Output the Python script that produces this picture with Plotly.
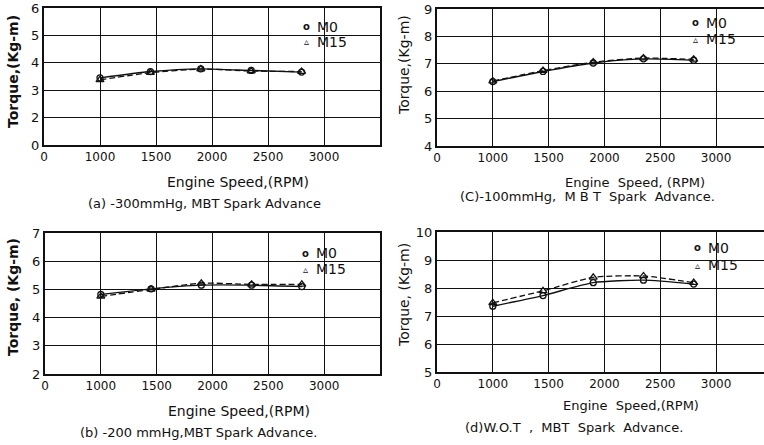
import plotly.graph_objects as go

# Engine speed test points (RPM)
rpm = [1000, 1450, 1900, 2350, 2800]

# Torque (Kg-m) for the base fuel (M0) and the 15% methanol blend (M15)
torque_a_m0 = [3.45, 3.68, 3.78, 3.72, 3.66]   # -300 mmHg
torque_a_m15 = [3.38, 3.64, 3.77, 3.70, 3.68]
torque_c_m0 = [6.35, 6.72, 7.03, 7.18, 7.13]   # -100 mmHg
torque_c_m15 = [6.37, 6.75, 7.06, 7.21, 7.16]
torque_b_m0 = [4.82, 5.02, 5.15, 5.15, 5.10]   # -200 mmHg
torque_b_m15 = [4.75, 5.00, 5.22, 5.18, 5.18]
torque_d_m0 = [7.35, 7.73, 8.19, 8.28, 8.14]   # W.O.T
torque_d_m15 = [7.47, 7.90, 8.38, 8.43, 8.19]

series_names = ["M0", "M15"]

# x axis: the first tick (true value 500) is labelled "0" (broken axis)
x_tickvals = [500, 1000, 1500, 2000, 2500, 3000]
x_ticktext = ["0", "1000", "1500", "2000", "2500", "3000"]

FONT = "DejaVu Sans"
INK = "#111111"
W, H = 764, 445

panels = [
    dict(k="", m0=torque_a_m0, m15=torque_a_m15, yr=[1, 6],
         yt=[1, 2, 3, 4, 5, 6], ytt=["0", "2", "3", "4", "5", "6"],
         xd=[44 / W, 380 / W], yd=[1 - 145 / H, 1 - 8 / H], xmax=3500, box=True,
         key_xy=(306, 27, 42), key_box=(288, 15, 355, 55)),
    dict(k="2", m0=torque_c_m0, m15=torque_c_m15, yr=[4, 9],
         yt=[4, 5, 6, 7, 8, 9], ytt=["4", "5", "6", "7", "8", "9"],
         xd=[437 / W, 1.0], yd=[1 - 146 / H, 1 - 9 / H], xmax=3430, box=False,
         key_xy=(695, 23, 39), key_box=(687, 12, 743, 50)),
    dict(k="3", m0=torque_b_m0, m15=torque_b_m15, yr=[2, 7],
         yt=[2, 3, 4, 5, 6, 7], ytt=["2", "3", "4", "5", "6", "7"],
         xd=[45 / W, 380 / W], yd=[1 - 374 / H, 1 - 233 / H], xmax=3500, box=True,
         key_xy=(305, 253, 269), key_box=(285, 241, 352, 280)),
    dict(k="4", m0=torque_d_m0, m15=torque_d_m15, yr=[5, 10],
         yt=[5, 6, 7, 8, 9, 10], ytt=["5", "6", "7", "8", "9", "10"],
         xd=[437 / W, 1.0], yd=[1 - 372 / H, 1 - 232 / H], xmax=3430, box=False,
         key_xy=(697, 248, 265), key_box=(690, 237, 745, 275)),
]

fig = go.Figure()
layout = dict(
    width=W, height=H,
    margin=dict(l=0, r=0, t=0, b=0, autoexpand=False),
    paper_bgcolor="white", plot_bgcolor="white",
    font=dict(family=FONT, size=12, color=INK),
    showlegend=False,
)

shapes = []
for p in panels:
    k = p["k"]
    xa, ya = "x" + k, "y" + k
    fig.add_trace(go.Scatter(
        x=rpm, y=p["m0"], xaxis=xa, yaxis=ya, mode="lines+markers", name=series_names[0],
        line=dict(color=INK, width=1.4, shape="spline", smoothing=0.6),
        marker=dict(symbol="circle-open", size=6, color=INK, line=dict(width=1.3)),
        cliponaxis=False))
    fig.add_trace(go.Scatter(
        x=rpm, y=p["m15"], xaxis=xa, yaxis=ya, mode="lines+markers", name=series_names[1],
        line=dict(color=INK, width=1.3, shape="spline", smoothing=0.6, dash="6px,3px"),
        marker=dict(symbol="triangle-up-open", size=7, color=INK, line=dict(width=1.3)),
        cliponaxis=False))

    layout["xaxis" + k] = dict(
        domain=p["xd"], anchor=ya, range=[500, p["xmax"]], automargin=False,
        tickmode="array", tickvals=x_tickvals, ticktext=x_ticktext,
        ticklabeloverflow="allow",
        showgrid=True, gridcolor=INK, gridwidth=1.2,
        showline=True, linecolor=INK, linewidth=2, mirror=True,
        ticks="", zeroline=False,
        tickfont=dict(family=FONT, size=12, color=INK), fixedrange=True)
    layout["yaxis" + k] = dict(
        domain=p["yd"], anchor=xa, range=p["yr"], automargin=False,
        tickmode="array", tickvals=p["yt"], ticktext=p["ytt"],
        ticklabeloverflow="allow",
        showgrid=True, gridcolor=INK, gridwidth=1.2,
        showline=True, linecolor=INK, linewidth=2, mirror=p["box"],
        ticks="", zeroline=False,
        tickfont=dict(family=FONT, size=13, color=INK), fixedrange=True)

    # white key box: hides the grid behind the key, stays under the curves
    x0, y0, x1, y1 = p["key_box"]
    shapes.append(dict(type="rect", xref="paper", yref="paper", layer="between",
                       x0=x0 / W, x1=x1 / W, y0=1 - y1 / H, y1=1 - y0 / H,
                       fillcolor="white", line=dict(width=0)))

layout["shapes"] = shapes
fig.update_layout(**layout)


def note(x, y, text, size=12, angle=0, bold=False, anchor="center"):
    t = f"<b>{text}</b>" if bold else text
    fig.add_annotation(x=x / W, y=1 - y / H, xref="paper", yref="paper",
                       text=t, showarrow=False, textangle=angle,
                       font=dict(family=FONT, size=size, color=INK),
                       xanchor=anchor, yanchor="middle", borderpad=0)


# keys: symbol + series name
for p in panels:
    kx, ky0, ky1 = p["key_xy"]
    note(kx, ky0, "o", 10, bold=True)
    note(kx, ky1, "▵", 10, bold=True)
    note(kx + 10, ky0, series_names[0], 14, anchor="left")
    note(kx + 10, ky1, series_names[1], 14, anchor="left")

# axis titles and panel captions
note(13, 72, "Torque,(Kg-m)", 14, -90, True)
note(238, 182, "Engine Speed,(RPM)", 14)
note(204, 203, "(a) -300mmHg, MBT Spark Advance", 13)

note(404, 65, "Torque,(Kg-m)", 14, -90)
note(635, 182, "Engine  Speed, (RPM)", 13)
note(587, 197, "(C)-100mmHg,  M B T  Spark  Advance.", 13)

note(13, 297, "Torque, (Kg-m)", 14, -90, True)
note(239, 411, "Engine Speed,(RPM)", 14)
note(198, 432, "(b) -200 mmHg,MBT Spark Advance.", 13)

note(404, 295, "Torque, (Kg-m)", 14, -90)
note(631, 405, "Engine  Speed,(RPM)", 13)
note(574, 427, "(d)W.O.T  ,  MBT  Spark  Advance.", 13)

fig.write_html("out.html")
